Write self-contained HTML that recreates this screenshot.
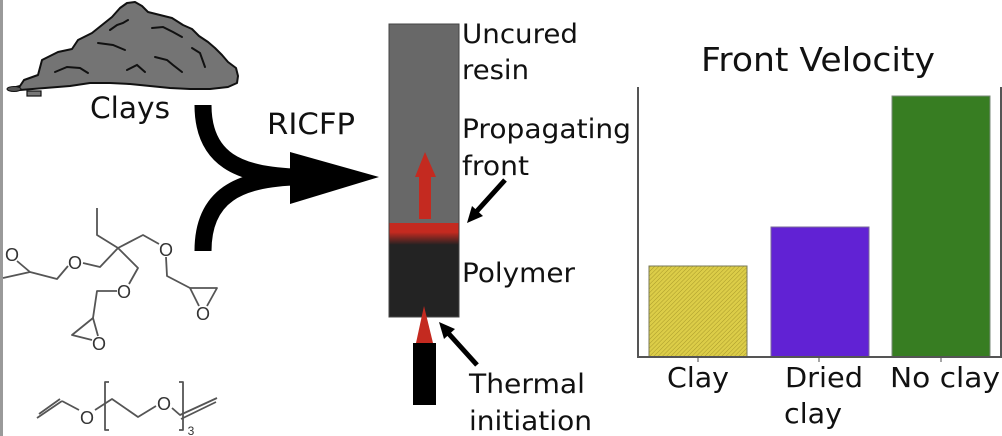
<!DOCTYPE html>
<html>
<head>
<meta charset="utf-8">
<style>
html,body{margin:0;padding:0;background:#fff;}
svg{display:block;}
.t{font-family:"DejaVu Sans","Liberation Sans",sans-serif;fill:#111;}
.c{font-family:"Liberation Sans",sans-serif;fill:#333;font-size:18px;text-anchor:middle;}
</style>
</head>
<body>
<svg width="1002" height="436" viewBox="0 0 1002 436" xmlns="http://www.w3.org/2000/svg">
<defs>
  <pattern id="hatch" width="3" height="3" patternUnits="userSpaceOnUse" patternTransform="rotate(45)">
    <rect width="3" height="3" fill="#dccd48"/>
    <line x1="0" y1="0" x2="0" y2="3" stroke="#a99a2a" stroke-width="1"/>
  </pattern>
  <linearGradient id="band" x1="0" y1="0" x2="0" y2="1">
    <stop offset="0" stop-color="#c42a20"/>
    <stop offset="0.42" stop-color="#c42a20"/>
    <stop offset="1" stop-color="#222"/>
  </linearGradient>
</defs>

<!-- left gray strip -->
<rect x="0" y="0" width="3" height="436" fill="#9a9a9a"/>

<!-- clay rock -->
<path d="M8,89 L20,86 L24,80 L38,75 L42,60 L58,52 L72,49 L78,40 L92,33 L102,25 L112,17 L120,8 L127,3 L135,2 L142,6 L148,12 L160,15 L172,18 L183,25 L192,29 L199,36 L208,42 L215,48 L222,55 L228,62 L236,68 L238,76 L237,83 L228,87 L210,89 L190,89 L170,88 L150,86 L130,84 L110,83 L90,83 L70,86 L45,88 L20,90 Z" fill="#747474" stroke="#111" stroke-width="2" stroke-linejoin="round"/>
<g fill="none" stroke="#111" stroke-width="2" stroke-linecap="round">
  <path d="M110,30 L117,25 L123,23 L128,20"/>
  <path d="M152,28 L163,27 L173,32 L182,37"/>
  <path d="M98,43 L113,45 L125,50"/>
  <path d="M192,48 L200,53 L205,67"/>
  <path d="M155,57 L167,60 L173,65 L182,72"/>
  <path d="M55,72 L67,67 L80,68 L88,73"/>
  <path d="M127,70 L137,65 L145,72"/>
</g>
<ellipse cx="14" cy="89" rx="7" ry="2.5" fill="#555" stroke="#111" stroke-width="1"/>
<rect x="27" y="91" width="14" height="5" fill="#777" stroke="#111" stroke-width="1.2"/>

<text class="t" x="90" y="118" font-size="29" textLength="80" lengthAdjust="spacingAndGlyphs">Clays</text>

<!-- big curved arrow -->
<g fill="none" stroke="#000" stroke-width="17">
  <path d="M203,105 C203,160 240,175 294,177"/>
  <path d="M203,251 C203,195 240,179 294,177"/>
</g>
<polygon points="290,152 379,177 290,204" fill="#000"/>
<text class="t" x="267" y="134" font-size="29" textLength="88" lengthAdjust="spacingAndGlyphs">RICFP</text>

<!-- trimethylolpropane triglycidyl ether -->
<g fill="none" stroke="#555" stroke-width="1.8" stroke-linejoin="round">
  <!-- ethyl -->
  <path d="M97,208 L97,235 L118,248"/>
  <!-- right branch -->
  <path d="M118,248 L143,235 L159,244"/>
  <path d="M166,257 L167,276 L190,288"/>
  <path d="M190,288 L217,288 L207,306 M190,288 L199,306"/>
  <!-- left branch -->
  <path d="M118,248 L100,267 L83,263"/>
  <path d="M68,266 L57,279 L30,272"/>
  <path d="M30,272 L3,278 M30,272 L17,261"/>
  <!-- down branch -->
  <path d="M118,248 L138,268 L129,284"/>
  <path d="M117,291 L97,291 L93,318"/>
  <path d="M93,318 L72,335 L92,340 M93,318 L98,336"/>
</g>
<text class="c" x="166" y="256">O</text>
<text class="c" x="203" y="320">O</text>
<text class="c" x="75" y="269">O</text>
<text class="c" x="12" y="261">O</text>
<text class="c" x="124" y="298">O</text>
<text class="c" x="99" y="350">O</text>

<!-- divinyl ether -->
<g fill="none" stroke="#555" stroke-width="1.8" stroke-linejoin="round">
  <path d="M37,418 L62,401 M39,414 L60,399"/>
  <path d="M62,401 L79,410"/>
  <path d="M95,410 L112,399 L138,417 L156,406"/>
  <path d="M172,408 L180,415 L217,398 M181,419 L216,402"/>
  <path d="M109,382 L105,382 L105,430 L109,430"/>
  <path d="M179,382 L183,382 L183,430 L179,430"/>
</g>
<text class="c" x="87" y="424">O</text>
<text class="c" x="164" y="410">O</text>
<text class="c" x="191" y="435" style="font-size:12px">3</text>

<!-- tube -->
<rect x="389" y="24" width="70" height="293" fill="#686868" stroke="#444" stroke-width="1"/>
<rect x="389.5" y="223" width="69" height="22" fill="url(#band)"/>
<rect x="389.5" y="245" width="69" height="71.5" fill="#232323"/>
<!-- red arrow -->
<polygon points="419,219 431,219 431,177 436,177 425,152 415,177 419,177" fill="#c42a20"/>

<!-- nozzle -->
<polygon points="424,306 433,343 416,343" fill="#c42a20"/>
<rect x="413" y="343" width="23" height="62" fill="#000"/>

<!-- pointer arrows -->
<line x1="505" y1="180" x2="477" y2="211" stroke="#000" stroke-width="5"/>
<polygon points="467,223 483,216 472,206" fill="#000"/>
<line x1="477" y1="365" x2="449" y2="334" stroke="#000" stroke-width="5"/>
<polygon points="439,322 455,329 444,339" fill="#000"/>

<!-- tube labels -->
<text class="t" x="462" y="43" font-size="27" textLength="116" lengthAdjust="spacingAndGlyphs">Uncured</text>
<text class="t" x="462" y="79" font-size="27" textLength="67" lengthAdjust="spacingAndGlyphs">resin</text>
<text class="t" x="462" y="138" font-size="27" textLength="169" lengthAdjust="spacingAndGlyphs">Propagating</text>
<text class="t" x="462" y="175" font-size="27" textLength="67" lengthAdjust="spacingAndGlyphs">front</text>
<text class="t" x="462" y="282" font-size="27" textLength="113" lengthAdjust="spacingAndGlyphs">Polymer</text>
<text class="t" x="469" y="393" font-size="27" textLength="116" lengthAdjust="spacingAndGlyphs">Thermal</text>
<text class="t" x="469" y="430" font-size="27" textLength="123" lengthAdjust="spacingAndGlyphs">initiation</text>

<!-- chart -->
<text class="t" x="701" y="71" font-size="33" textLength="234" lengthAdjust="spacingAndGlyphs">Front Velocity</text>
<rect x="649" y="266" width="98" height="91" fill="url(#hatch)" stroke="#7a7a5a" stroke-width="1"/>
<rect x="771" y="227" width="98" height="130" fill="#6122d4" stroke="#7a6a9a" stroke-width="1"/>
<rect x="892" y="96" width="98" height="261" fill="#377d22" stroke="#7a8a7a" stroke-width="1"/>
<line x1="638" y1="87" x2="638" y2="358" stroke="#555" stroke-width="2"/>
<line x1="1001" y1="87" x2="1001" y2="358" stroke="#555" stroke-width="2"/>
<line x1="637" y1="357" x2="1002" y2="357" stroke="#555" stroke-width="2"/>
<g stroke="#888" stroke-width="1.5">
  <line x1="698" y1="358" x2="698" y2="362"/>
  <line x1="819" y1="358" x2="819" y2="362"/>
  <line x1="941" y1="358" x2="941" y2="362"/>
</g>
<text class="t" x="667" y="387" font-size="28" textLength="62" lengthAdjust="spacingAndGlyphs">Clay</text>
<text class="t" x="785" y="387" font-size="28" textLength="78" lengthAdjust="spacingAndGlyphs">Dried</text>
<text class="t" x="784" y="423" font-size="28" textLength="58" lengthAdjust="spacingAndGlyphs">clay</text>
<text class="t" x="890" y="387" font-size="28" textLength="110" lengthAdjust="spacingAndGlyphs">No clay</text>
</svg>
</body>
</html>
